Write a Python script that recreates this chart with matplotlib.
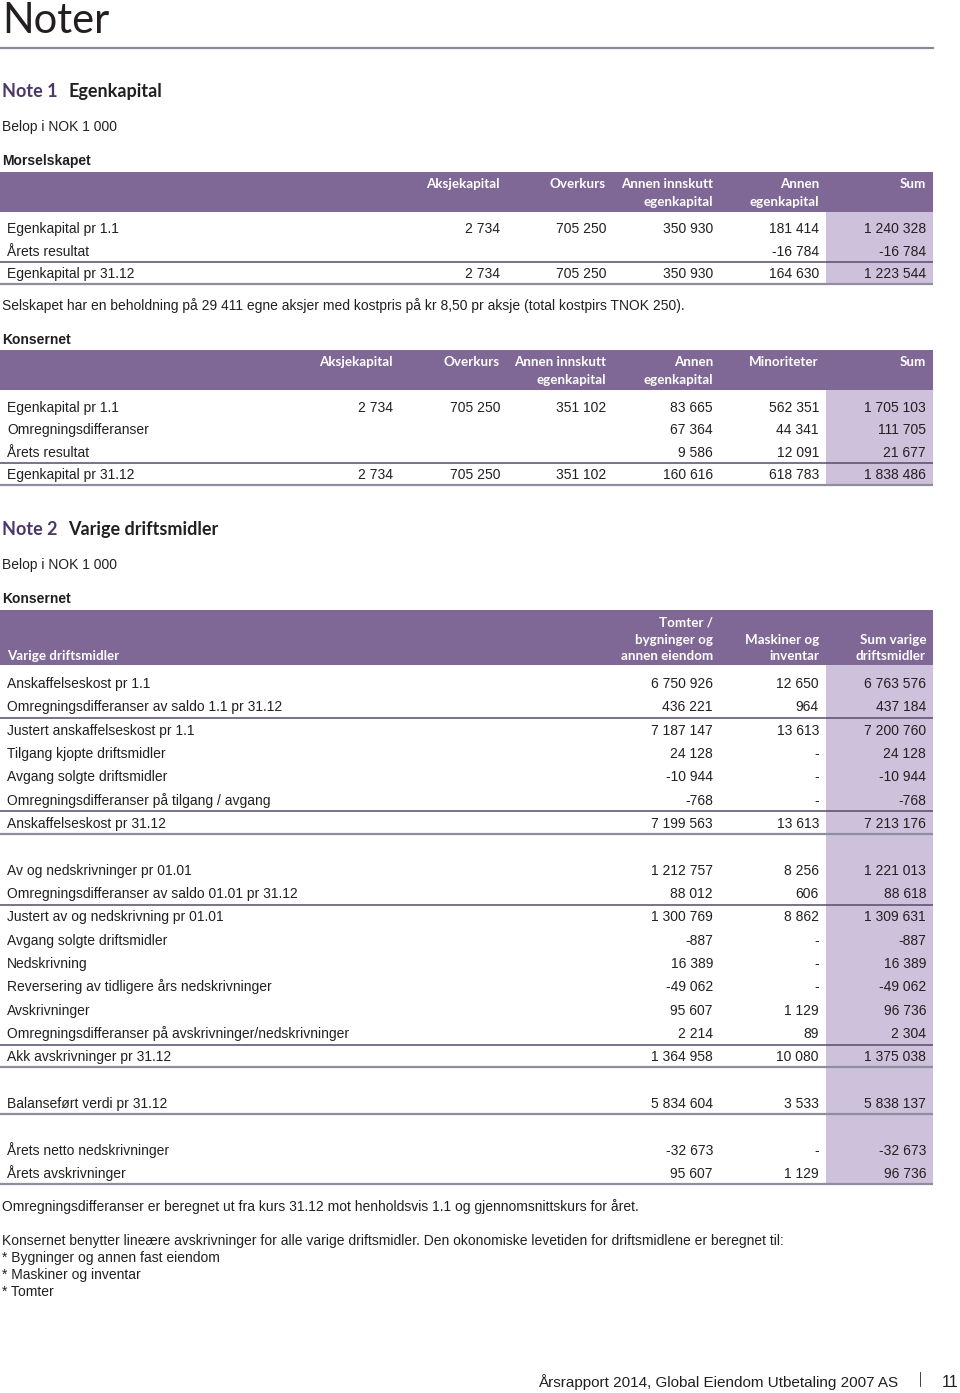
import matplotlib.pyplot as plt
from matplotlib.patches import Rectangle

# Note 1 - Morselskapet
mor_kolonner = ['Aksjekapital', 'Overkurs', 'Annen innskutt\negenkapital', 'Annen\negenkapital', 'Sum']
mor_rader = ['Egenkapital pr 1.1', 'Årets resultat', 'Egenkapital pr 31.12']
mor_aksjekapital = [2734, None, 2734]
mor_overkurs = [705250, None, 705250]
mor_annen_innskutt = [350930, None, 350930]
mor_annen_ek = [181414, -16784, 164630]
mor_sum = [1240328, -16784, 1223544]

# Note 1 - Konsernet
kons_kolonner = ['Aksjekapital', 'Overkurs', 'Annen innskutt\negenkapital', 'Annen\negenkapital',
                 'Minoriteter', 'Sum']
kons_rader = ['Egenkapital pr 1.1', 'Omregningsdifferanser', 'Årets resultat', 'Egenkapital pr 31.12']
kons_aksjekapital = [2734, None, None, 2734]
kons_overkurs = [705250, None, None, 705250]
kons_annen_innskutt = [351102, None, None, 351102]
kons_annen_ek = [83665, 67364, 9586, 160616]
kons_minoriteter = [562351, 44341, 12091, 618783]
kons_sum = [1705103, 111705, 21677, 1838486]

# Note 2 - Varige driftsmidler (None = tom rad)
vdm_kolonner = ['Tomter /\nbygninger og\nannen eiendom', 'Maskiner og\ninventar', 'Sum varige\ndriftsmidler']
vdm_rader = ['Anskaffelseskost pr 1.1', 'Omregningsdifferanser av saldo 1.1 pr 31.12',
             'Justert anskaffelseskost pr 1.1', 'Tilgang kjopte driftsmidler',
             'Avgang solgte driftsmidler', 'Omregningsdifferanser på tilgang / avgang',
             'Anskaffelseskost pr 31.12', None,
             'Av og nedskrivninger pr 01.01', 'Omregningsdifferanser av saldo 01.01 pr 31.12',
             'Justert av og nedskrivning pr 01.01', 'Avgang solgte driftsmidler', 'Nedskrivning',
             'Reversering av tidligere års nedskrivninger', 'Avskrivninger',
             'Omregningsdifferanser på avskrivninger/nedskrivninger', 'Akk avskrivninger pr 31.12', None,
             'Balanseført verdi pr 31.12', None,
             'Årets netto nedskrivninger', 'Årets avskrivninger']
vdm_tomter = [6750926, 436221, 7187147, 24128, -10944, -768, 7199563, None,
              1212757, 88012, 1300769, -887, 16389, -49062, 95607, 2214, 1364958, None,
              5834604, None, -32673, 95607]
vdm_maskiner = [12650, 964, 13613, 0, 0, 0, 13613, None,
                8256, 606, 8862, 0, 0, 0, 1129, 89, 10080, None,
                3533, None, 0, 1129]
vdm_sum = [6763576, 437184, 7200760, 24128, -10944, -768, 7213176, None,
           1221013, 88618, 1309631, -887, 16389, -49062, 96736, 2304, 1375038, None,
           5838137, None, -32673, 96736]
vdm_sumlinje_over = [2, 6, 10, 16]
vdm_strek_under = [6, 16, 18, 21]

LILLA = '#806896'
LYS_LILLA = '#cdc1db'
MORK_STREK = '#564c6a'
GRA_STREK = '#8f8d9e'
NOTE_FARGE = '#4b3868'
TEKST = '#231f20'
BODY = 'Liberation Sans'
HEAD = 'Lato'
VENSTRE, HOYRE = 0, 933


def fmt(v):
    if v is None:
        return ''
    if v == 0:
        return '-'
    return f'{v:,}'.replace(',', ' ')


def tekst(ax, x, y, s, size=10, ha='left', **kw):
    kw.setdefault('color', TEKST)
    kw.setdefault('family', BODY)
    ax.text(x, y + 5, s, fontsize=size, ha=ha, va='baseline', **kw)


def header(ax, topp, bunn, hoyrekanter, navn, nede=False, venstre_navn=None):
    ax.add_patch(Rectangle((VENSTRE, topp), HOYRE - VENSTRE, bunn - topp, color=LILLA, lw=0))
    for x, n in zip(hoyrekanter, navn):
        linjer = n.split('\n')
        for k, l in enumerate(linjer):
            if nede:
                y = bunn - 9 - 17 * (len(linjer) - 1 - k)
            else:
                y = topp + 12 + 17 * k
            ax.text(x, y + 4.5, l, fontsize=9.6, ha='right', va='baseline', color='white',
                    family=HEAD, fontweight='bold')
    if venstre_navn:
        ax.text(7, bunn - 9 + 4.5, venstre_navn, fontsize=9.6, ha='left', va='baseline',
                color='white', family=HEAD, fontweight='bold')


def strek(ax, y, mork):
    if mork:
        ax.plot([VENSTRE, HOYRE], [y, y], color=MORK_STREK, lw=1.1, solid_capstyle='butt')
    else:
        ax.plot([VENSTRE, HOYRE], [y, y], color=GRA_STREK, lw=1.6, solid_capstyle='butt')


fig = plt.figure(figsize=(9.6, 13.93), dpi=100)
ax = fig.add_axes([0, 0, 1, 1])
ax.set_xlim(0, 960)
ax.set_ylim(1393, 0)
ax.axis('off')

# tittel
ax.text(2, 33, 'Noter', fontsize=30, family=HEAD, color=TEKST, va='baseline')
ax.plot([0, 933], [48, 48], color='#8c8a9a', lw=1.6)

# Note 1
ax.text(2, 97, 'Note 1', fontsize=13, family=HEAD, fontweight='bold', color=NOTE_FARGE, va='baseline')
ax.text(68, 97, 'Egenkapital', fontsize=13, family=HEAD, fontweight='bold', color=TEKST, va='baseline')
tekst(ax, 2, 126, 'Belop i NOK 1 000')
tekst(ax, 2, 160, 'Morselskapet', fontweight='bold')

kol_x = [500, 606, 713, 819, 926]
ax.add_patch(Rectangle((826, 212), HOYRE - 826, 284 - 212, color=LYS_LILLA, lw=0))
header(ax, 172, 212, kol_x, mor_kolonner)
serier = [mor_aksjekapital, mor_overkurs, mor_annen_innskutt, mor_annen_ek, mor_sum]
for i, navn in enumerate(mor_rader):
    y = 228 + 22.5 * i
    tekst(ax, 7, y, navn)
    for x, s in zip(kol_x, serier):
        tekst(ax, x, y, fmt(s[i]), ha='right')
strek(ax, 228 + 22.5 * 1.5, True)
strek(ax, 228 + 22.5 * 2 + 11, False)

tekst(ax, 2, 305, 'Selskapet har en beholdning på 29 411 egne aksjer med kostpris på kr 8,50 pr aksje '
                  '(total kostpirs TNOK 250).')
tekst(ax, 2, 339, 'Konsernet', fontweight='bold')

kol_x = [393, 500, 606, 713, 819, 926]
ax.add_patch(Rectangle((826, 390), HOYRE - 826, 485 - 390, color=LYS_LILLA, lw=0))
header(ax, 350, 390, kol_x, kons_kolonner)
serier = [kons_aksjekapital, kons_overkurs, kons_annen_innskutt, kons_annen_ek, kons_minoriteter, kons_sum]
for i, navn in enumerate(kons_rader):
    y = 407 + 22.4 * i
    tekst(ax, 7, y, navn)
    for x, s in zip(kol_x, serier):
        tekst(ax, x, y, fmt(s[i]), ha='right')
strek(ax, 407 + 22.4 * 2.5, True)
strek(ax, 407 + 22.4 * 3 + 11, False)

# Note 2
ax.text(2, 535, 'Note 2', fontsize=13, family=HEAD, fontweight='bold', color=NOTE_FARGE, va='baseline')
ax.text(68, 535, 'Varige driftsmidler', fontsize=13, family=HEAD, fontweight='bold', color=TEKST,
        va='baseline')
tekst(ax, 2, 564, 'Belop i NOK 1 000')
tekst(ax, 2, 598, 'Konsernet', fontweight='bold')

kol_x = [713, 819, 926]
pitch = (1173 - 683) / 21
ax.add_patch(Rectangle((826, 665), HOYRE - 826, 1184 - 665, color=LYS_LILLA, lw=0))
header(ax, 610, 665, kol_x, vdm_kolonner, nede=True, venstre_navn='Varige driftsmidler')
serier = [vdm_tomter, vdm_maskiner, vdm_sum]
for i, navn in enumerate(vdm_rader):
    if navn is None:
        continue
    y = 683 + pitch * i
    tekst(ax, 7, y, navn)
    for x, s in zip(kol_x, serier):
        tekst(ax, x, y, fmt(s[i]), ha='right')
for i in vdm_sumlinje_over:
    strek(ax, 683 + pitch * (i - 0.5), True)
for i in vdm_strek_under:
    strek(ax, 683 + pitch * i + 11, False)

tekst(ax, 2, 1206, 'Omregningsdifferanser er beregnet ut fra kurs 31.12 mot henholdsvis 1.1 og '
                   'gjennomsnittskurs for året.')
tekst(ax, 2, 1240, 'Konsernet benytter lineære avskrivninger for alle varige driftsmidler. Den okonomiske '
                   'levetiden for driftsmidlene er beregnet til:')
tekst(ax, 2, 1257, '* Bygninger og annen fast eiendom')
tekst(ax, 2, 1274, '* Maskiner og inventar')
tekst(ax, 2, 1291, '* Tomter')

# bunntekst
ax.text(898, 1387, 'Årsrapport 2014, Global Eiendom Utbetaling 2007 AS', fontsize=11, family=BODY,
        color=TEKST, ha='right', va='baseline')
ax.plot([920, 920], [1372, 1386], color=TEKST, lw=0.6)
ax.text(958, 1387, '11', fontsize=11.5, family=BODY, color=TEKST, ha='right', va='baseline')

fig.savefig('out.png', dpi=100)
